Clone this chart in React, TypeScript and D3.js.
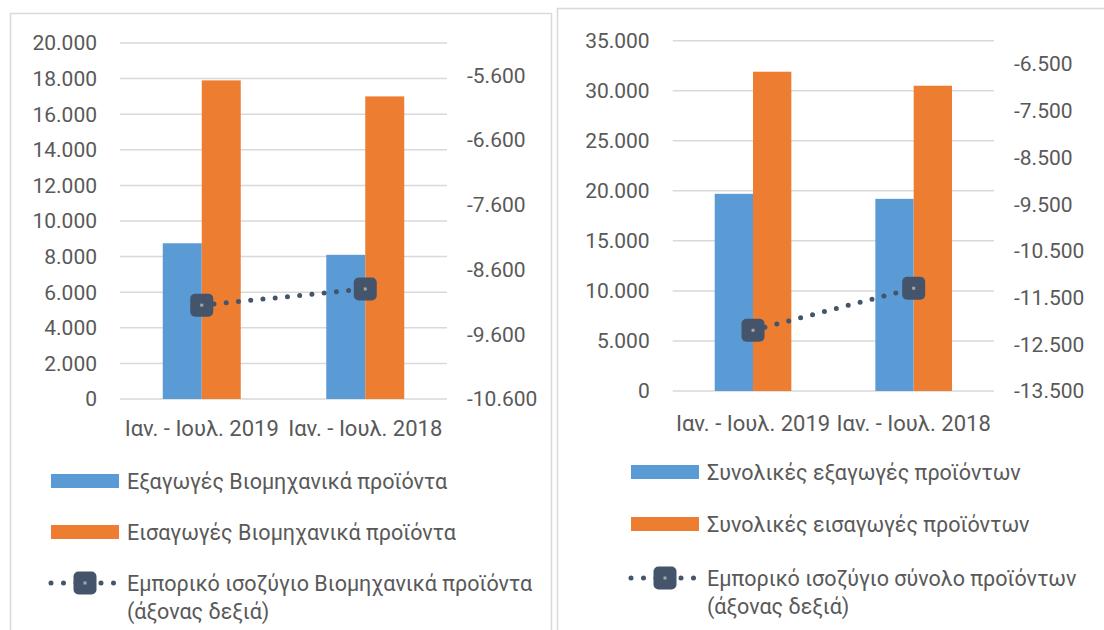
import React from 'react';
import * as d3 from 'd3';

// two Excel-style combo charts side by side

const width = 1104;
const height = 630;

const categories = ['Ιαν. - Ιουλ. 2019', 'Ιαν. - Ιουλ. 2018'];

// left: industrial products
const industrialExports = [8750, 8100];
const industrialImports = [17900, 17000];
const industrialBalance = [-9150, -8900];
const industrialTicks = [0, 2000, 4000, 6000, 8000, 10000, 12000, 14000, 16000, 18000, 20000];
const industrialBalanceTicks = [-10600, -9600, -8600, -7600, -6600, -5600];
const industrialLegend = [
  'Εξαγωγές Βιομηχανικά προϊόντα',
  'Εισαγωγές Βιομηχανικά προϊόντα',
  'Εμπορικό ισοζύγιο Βιομηχανικά προϊόντα'
];

// right: all products
const totalExports = [19700, 19200];
const totalImports = [31900, 30500];
const totalBalance = [-12200, -11300];
const totalTicks = [0, 5000, 10000, 15000, 20000, 25000, 30000, 35000];
const totalBalanceTicks = [-13500, -12500, -11500, -10500, -9500, -8500, -7500, -6500];
const totalLegend = [
  'Συνολικές εξαγωγές προϊόντων',
  'Συνολικές εισαγωγές προϊόντων',
  'Εμπορικό ισοζύγιο σύνολο προϊόντων'
];
const axisNote = '(άξονας δεξιά)';

const BLUE = '#5B9BD5';
const ORANGE = '#ED7D31';
const NAVY = '#44546A';
const GRID = '#d9d9d9';
const TEXT = '#595959';
const FONT = 'Roboto, "Noto Sans", sans-serif';
const FS = 21;

const fmt = d3.formatLocale({
  decimal: ',',
  thousands: '.',
  grouping: [3],
  currency: ['', '€'],
  minus: '-'
}).format(',d');

const Marker = ({ x, y }) => (
  <g>
    <rect x={x - 11.5} y={y - 11.5} width={23} height={23} rx={5} fill={NAVY} />
    <rect x={x - 1.5} y={y - 1.5} width={3} height={3} fill="#a6a6a6" />
  </g>
);

const Panel = props => {
  const { frame, plot, y1Domain, y1Ticks, y2Domain, y2Ticks, exportsData, importsData, balanceData, legend, legendX, legendRows, catOffset } = props;

  const x0 = d3.scaleBand()
    .domain(categories)
    .range([plot.left, plot.right])
    .paddingInner(0.523)
    .paddingOuter(0.2615);
  const x1 = d3.scaleBand()
    .domain(['exp', 'imp'])
    .range([0, x0.bandwidth()]);

  const y1 = d3.scaleLinear().domain(y1Domain).range([plot.bottom, plot.top]);
  const y2 = d3.scaleLinear().domain(y2Domain).range([plot.bottom, plot.top]);

  const line = d3.line()
    .x((d, i) => x0(categories[i]) + x0.bandwidth() / 2)
    .y(d => y2(d));

  const swW = 68;

  return (
    <g>
      <rect x={frame.x} y={frame.y} width={frame.w} height={frame.h} fill="#fff" stroke={GRID} strokeWidth={1.5} />

      {y1Ticks.map(t => (
        <g key={'g' + t}>
          <line x1={plot.left} x2={plot.right} y1={y1(t)} y2={y1(t)} stroke={GRID} strokeWidth={1.5} />
          <text x={plot.left - 23} y={y1(t)} dy="0.35em" textAnchor="end">{fmt(t)}</text>
        </g>
      ))}
      {y2Ticks.map(t => (
        <text key={'r' + t} x={plot.right + 20} y={y2(t)} dy="0.35em">{fmt(t)}</text>
      ))}

      {categories.map((c, i) => (
        <g key={c}>
          <rect x={x0(c) + x1('exp')} y={y1(exportsData[i])} width={x1.bandwidth()}
            height={y1(0) - y1(exportsData[i])} fill={BLUE} />
          <rect x={x0(c) + x1('imp')} y={y1(importsData[i])} width={x1.bandwidth()}
            height={y1(0) - y1(importsData[i])} fill={ORANGE} />
          <text x={x0(c) + x0.bandwidth() / 2} y={plot.bottom + catOffset} dy="0.35em"
            textAnchor="middle" fontSize={22}>{c}</text>
        </g>
      ))}

      <path d={line(balanceData)} fill="none" stroke={NAVY} strokeWidth={5}
        strokeLinecap="round" strokeDasharray="0 12.3" />
      {balanceData.map((v, i) => (
        <Marker key={i} x={x0(categories[i]) + x0.bandwidth() / 2} y={y2(v)} />
      ))}

      {/* legend */}
      <g fontSize={21.5}>
        <rect x={legendX} y={legendRows[0] - 7} width={swW} height={14} fill={BLUE} />
        <text x={legendX + swW + 8} y={legendRows[0]} dy="0.35em">{legend[0]}</text>
        <rect x={legendX} y={legendRows[1] - 7} width={swW} height={14} fill={ORANGE} />
        <text x={legendX + swW + 8} y={legendRows[1]} dy="0.35em">{legend[1]}</text>
        <line x1={legendX} x2={legendX + swW} y1={legendRows[2]} y2={legendRows[2]} stroke={NAVY}
          strokeWidth={5} strokeLinecap="round" strokeDasharray="0 12.5" />
        <Marker x={legendX + swW / 2} y={legendRows[2]} />
        <text x={legendX + swW + 8} y={legendRows[2]} dy="0.35em">{legend[2]}</text>
        <text x={legendX + swW + 8} y={legendRows[3]} dy="0.35em">{axisNote}</text>
      </g>
    </g>
  );
};

const App = () => {
  return (
    <svg width={width} height={height}
      style={{ position: 'absolute', left: 0, top: 0, background: '#fff' }}
      fontFamily={FONT} fontSize={FS} fill={TEXT}>
      <Panel
        frame={{ x: 10.5, y: 13.5, w: 541, h: 640 }}
        plot={{ left: 120, right: 447, top: 43, bottom: 399 }}
        y1Domain={[0, 20000]}
        y1Ticks={industrialTicks}
        y2Domain={[-10600, -5100]}
        y2Ticks={industrialBalanceTicks}
        exportsData={industrialExports}
        importsData={industrialImports}
        balanceData={industrialBalance}
        legend={industrialLegend}
        legendX={51}
        legendRows={[481, 532, 583, 611]}
        catOffset={29}
      />
      <Panel
        frame={{ x: 557.5, y: 8.5, w: 560, h: 640 }}
        plot={{ left: 672.7, right: 994, top: 40.7, bottom: 391 }}
        y1Domain={[0, 35000]}
        y1Ticks={totalTicks}
        y2Domain={[-13500, -6000]}
        y2Ticks={totalBalanceTicks}
        exportsData={totalExports}
        importsData={totalImports}
        balanceData={totalBalance}
        legend={totalLegend}
        legendX={631}
        legendRows={[472, 524, 578, 606]}
        catOffset={32}
      />
    </svg>
  );
};

export default App;
